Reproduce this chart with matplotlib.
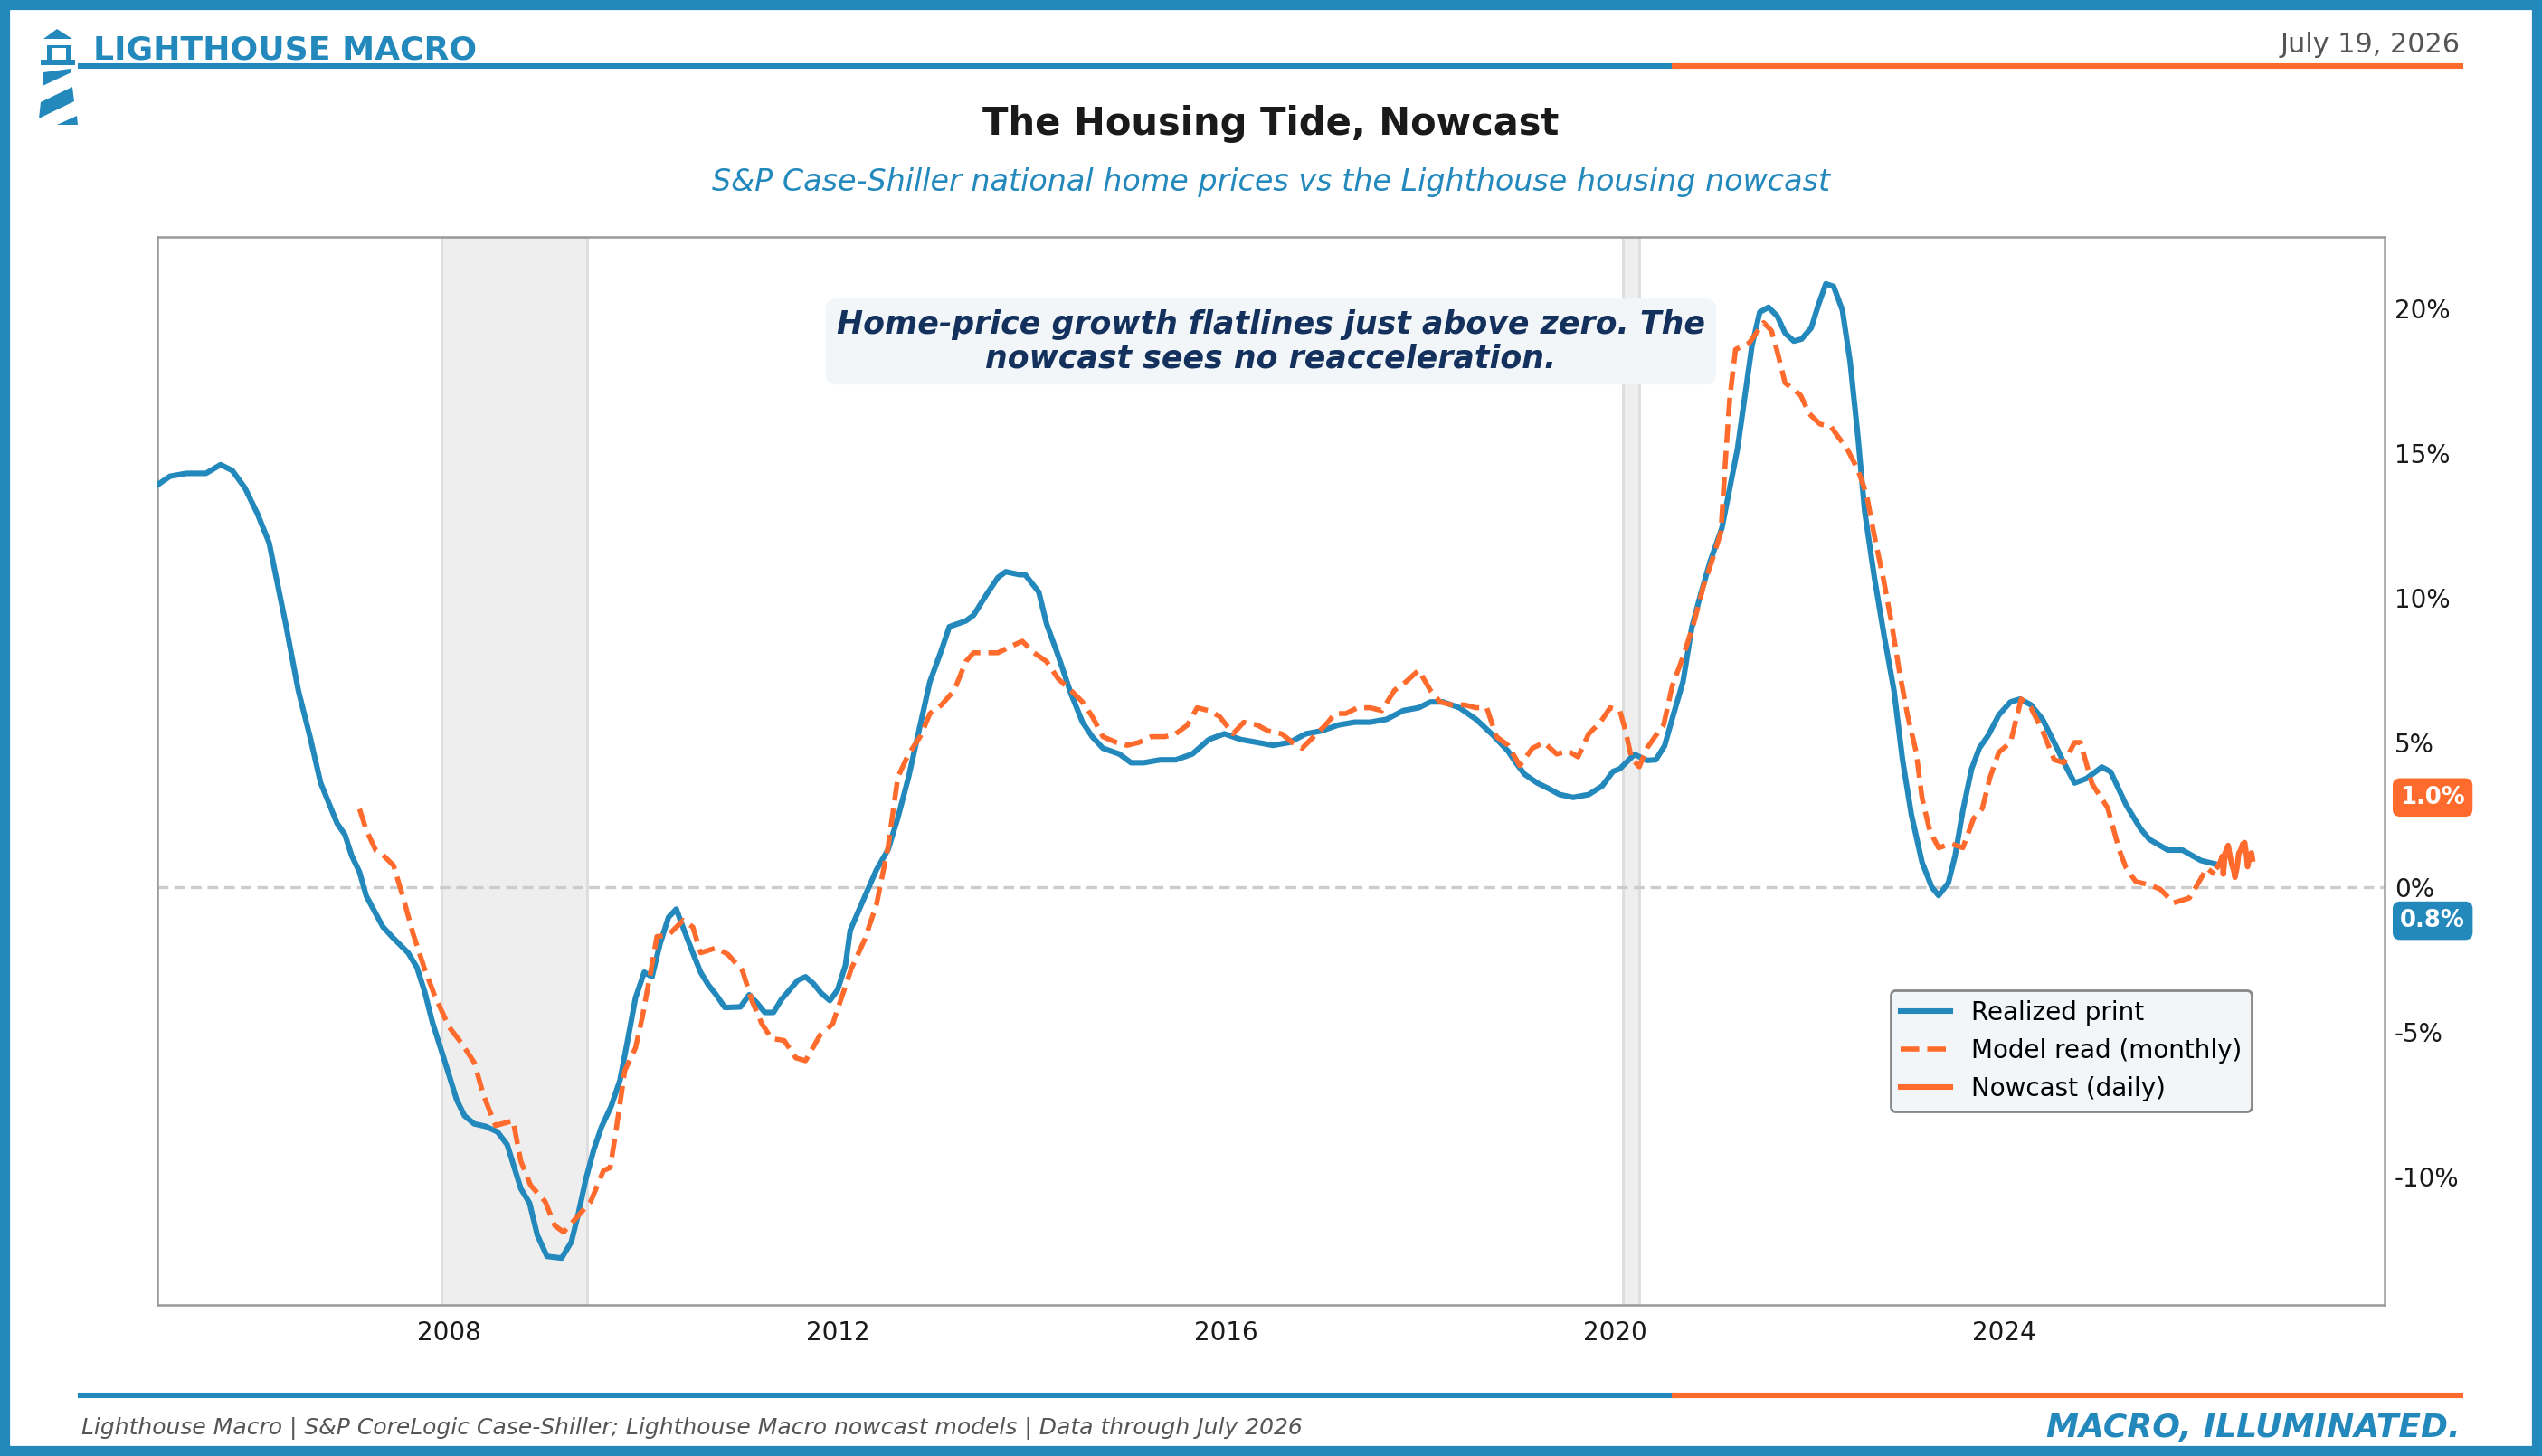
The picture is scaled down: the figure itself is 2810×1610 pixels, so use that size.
import matplotlib
matplotlib.use('Agg')
import matplotlib.pyplot as plt
from matplotlib.patches import Polygon, Rectangle
from matplotlib.lines import Line2D

# ==========================================
# Data (decimal years, YoY %)
# ==========================================
realized_years = [
    2005.0, 2005.13, 2005.3, 2005.5, 2005.65, 2005.77, 2005.9, 2006.03, 2006.15, 2006.32,
    2006.45, 2006.57, 2006.68, 2006.85, 2006.93, 2007.0, 2007.08, 2007.15, 2007.32, 2007.43,
    2007.58, 2007.67, 2007.75, 2007.83, 2007.93, 2008.08, 2008.16, 2008.26, 2008.38, 2008.5,
    2008.6, 2008.74, 2008.83, 2008.91, 2009.01, 2009.16, 2009.26, 2009.33, 2009.41, 2009.49,
    2009.57, 2009.67, 2009.76, 2009.84, 2009.92, 2010.01, 2010.09, 2010.17, 2010.26, 2010.34,
    2010.42, 2010.51, 2010.59, 2010.67, 2010.75, 2010.84, 2011.0, 2011.09, 2011.17, 2011.25,
    2011.34, 2011.42, 2011.59, 2011.67, 2011.75, 2011.83, 2011.92, 2012.0, 2012.08, 2012.13,
    2012.27, 2012.4, 2012.52, 2012.62, 2012.73, 2012.85, 2012.95, 2013.07, 2013.15, 2013.32,
    2013.4, 2013.53, 2013.65, 2013.73, 2013.87, 2013.93, 2014.07, 2014.15, 2014.27, 2014.4,
    2014.52, 2014.62, 2014.73, 2014.9, 2015.02, 2015.15, 2015.32, 2015.48, 2015.65, 2015.82,
    2015.98, 2016.15, 2016.32, 2016.48, 2016.65, 2016.82, 2016.98, 2017.15, 2017.32, 2017.48,
    2017.65, 2017.82, 2017.98, 2018.1, 2018.23, 2018.4, 2018.57, 2018.73, 2018.9, 2018.98,
    2019.07, 2019.2, 2019.32, 2019.43, 2019.57, 2019.73, 2019.87, 2019.98, 2020.05, 2020.2,
    2020.33, 2020.42, 2020.51, 2020.6, 2020.7, 2020.79, 2020.88, 2020.98, 2021.1, 2021.26,
    2021.41, 2021.49, 2021.58, 2021.67, 2021.75, 2021.84, 2021.92, 2022.02, 2022.09, 2022.17,
    2022.25, 2022.34, 2022.42, 2022.5, 2022.57, 2022.67, 2022.77, 2022.87, 2022.96, 2023.05,
    2023.16, 2023.26, 2023.33, 2023.43, 2023.5, 2023.58, 2023.67, 2023.75, 2023.84, 2023.95,
    2024.07, 2024.17, 2024.28, 2024.4, 2024.52, 2024.62, 2024.73, 2024.85, 2025.01, 2025.1,
    2025.26, 2025.41, 2025.5, 2025.69, 2025.84, 2026.03, 2026.2,
]
realized_vals = [
    13.9, 14.2, 14.3, 14.3, 14.6, 14.4, 13.8, 12.9, 11.9, 9.1,
    6.8, 5.2, 3.6, 2.2, 1.81, 1.08, 0.52, -0.31, -1.37, -1.77,
    -2.27, -2.77, -3.61, -4.67, -5.73, -7.35, -7.9, -8.18, -8.27, -8.46,
    -8.9, -10.42, -10.92, -12.03, -12.76, -12.82, -12.26, -11.31, -10.08, -9.08,
    -8.29, -7.57, -6.68, -5.28, -3.83, -2.94, -3.1, -1.99, -1.04, -0.76,
    -1.49, -2.27, -2.94, -3.38, -3.72, -4.16, -4.14, -3.72, -4.0, -4.33,
    -4.33, -3.89, -3.22, -3.1, -3.33, -3.66, -3.92, -3.55, -2.71, -1.49,
    -0.4, 0.6, 1.3, 2.4, 3.8, 5.6, 7.1, 8.2, 9.0, 9.2,
    9.4, 10.1, 10.7, 10.9, 10.8, 10.8, 10.2, 9.1, 8.0, 6.7,
    5.7, 5.2, 4.8, 4.6, 4.3, 4.3, 4.4, 4.4, 4.6, 5.1,
    5.3, 5.1, 5.0, 4.9, 5.0, 5.3, 5.4, 5.6, 5.7, 5.7,
    5.8, 6.1, 6.2, 6.4, 6.4, 6.2, 5.8, 5.3, 4.7, 4.3,
    3.9, 3.6, 3.4, 3.2, 3.1, 3.2, 3.5, 4.0, 4.09, 4.59,
    4.38, 4.4, 4.88, 5.95, 7.1, 8.97, 10.1, 11.26, 12.41, 15.14,
    18.72, 19.87, 20.04, 19.73, 19.15, 18.87, 18.94, 19.33, 20.09, 20.85,
    20.76, 19.94, 18.15, 15.57, 12.98, 10.69, 8.68, 6.82, 4.38, 2.51,
    0.86, 0.0, -0.29, 0.14, 1.08, 2.65, 4.09, 4.81, 5.24, 5.95,
    6.4, 6.5, 6.3, 5.8, 5.0, 4.3, 3.6, 3.75, 4.15, 3.99,
    2.84, 2.01, 1.65, 1.28, 1.28, 0.92, 0.78,
]

model_years = [
    2007.08, 2007.15, 2007.25, 2007.33, 2007.43, 2007.53, 2007.63, 2007.75, 2007.85, 2008.0,
    2008.13, 2008.26, 2008.36, 2008.48, 2008.66, 2008.74, 2008.84, 2008.99, 2009.09, 2009.18,
    2009.33, 2009.46, 2009.59, 2009.66, 2009.72, 2009.81, 2009.92, 2009.99, 2010.07, 2010.14,
    2010.26, 2010.41, 2010.51, 2010.59, 2010.75, 2010.87, 2011.02, 2011.12, 2011.22, 2011.32,
    2011.45, 2011.57, 2011.67, 2011.82, 2011.95, 2012.05, 2012.14, 2012.28, 2012.4, 2012.52,
    2012.62, 2012.73, 2012.85, 2012.95, 2013.07, 2013.2, 2013.32, 2013.4, 2013.53, 2013.65,
    2013.77, 2013.9, 2014.02, 2014.15, 2014.27, 2014.4, 2014.52, 2014.62, 2014.73, 2014.87,
    2014.98, 2015.1, 2015.23, 2015.37, 2015.48, 2015.6, 2015.7, 2015.82, 2015.93, 2016.07,
    2016.18, 2016.32, 2016.43, 2016.57, 2016.68, 2016.78, 2016.9, 2017.02, 2017.12, 2017.23,
    2017.35, 2017.48, 2017.6, 2017.73, 2017.85, 2017.98, 2018.1, 2018.2, 2018.32, 2018.45,
    2018.57, 2018.68, 2018.78, 2018.9, 2019.02, 2019.15, 2019.27, 2019.4, 2019.52, 2019.62,
    2019.73, 2019.85, 2019.95, 2020.05, 2020.11, 2020.17, 2020.25, 2020.33, 2020.42, 2020.5,
    2020.59, 2020.7, 2020.81, 2020.91, 2021.01, 2021.09, 2021.13, 2021.18, 2021.24, 2021.38,
    2021.53, 2021.61, 2021.67, 2021.75, 2021.91, 2022.0, 2022.11, 2022.22, 2022.28, 2022.39,
    2022.5, 2022.59, 2022.67, 2022.76, 2022.84, 2022.93, 2023.01, 2023.1, 2023.16, 2023.24,
    2023.33, 2023.46, 2023.58, 2023.69, 2023.78, 2023.86, 2023.95, 2024.07, 2024.18, 2024.28,
    2024.4, 2024.52, 2024.62, 2024.73, 2024.79, 2024.91, 2025.07, 2025.13, 2025.19, 2025.26,
    2025.36, 2025.5, 2025.61, 2025.75, 2025.91, 2026.02, 2026.09, 2026.17,
]
model_vals = [
    2.7, 1.97, 1.25, 1.08, 0.75, -0.37, -1.6, -2.83, -3.72, -4.83,
    -5.39, -6.06, -7.23, -8.24, -8.07, -9.47, -10.3, -10.86, -11.7, -11.92,
    -11.36, -10.86, -9.8, -9.69, -8.41, -6.34, -5.56, -4.5, -3.05, -1.71,
    -1.65, -1.15, -1.38, -2.27, -2.1, -2.32, -2.88, -3.94, -4.72, -5.23,
    -5.3, -5.9, -6.0, -5.11, -4.72, -3.72, -2.83, -1.8, -0.6, 1.4,
    3.8, 4.6, 5.2, 6.0, 6.3, 6.8, 7.8, 8.1, 8.1, 8.1,
    8.3, 8.5, 8.1, 7.8, 7.2, 6.8, 6.4, 5.9, 5.2, 5.0,
    4.9, 5.0, 5.2, 5.2, 5.3, 5.6, 6.2, 6.1, 5.9, 5.3,
    5.7, 5.6, 5.4, 5.3, 5.0, 4.8, 5.2, 5.6, 6.0, 6.0,
    6.2, 6.2, 6.1, 6.8, 7.1, 7.5, 6.8, 6.4, 6.3, 6.3,
    6.2, 6.2, 5.2, 4.9, 4.2, 4.8, 5.0, 4.6, 4.7, 4.5,
    5.3, 5.7, 6.2, 6.1, 5.38, 4.45, 4.16, 4.81, 5.24, 5.6,
    6.96, 7.96, 9.11, 10.4, 11.41, 12.27, 14.42, 16.86, 18.58, 18.8,
    19.51, 19.23, 18.51, 17.43, 17.0, 16.36, 16.0, 15.93, 15.64, 15.14,
    14.42, 13.56, 12.13, 10.69, 9.25, 7.39, 5.95, 4.66, 3.08, 1.94,
    1.36, 1.5, 1.36, 2.37, 2.72, 3.8, 4.66, 5.0, 6.5, 6.2,
    5.4, 4.4, 4.3, 5.0, 5.0, 3.57, 2.74, 2.01, 1.28, 0.66,
    0.19, 0.08, -0.07, -0.54, -0.38, 0.24, 0.66, 0.45,
]

nowcast_years = [
    2026.2, 2026.23, 2026.25, 2026.26, 2026.28, 2026.31, 2026.33, 2026.35, 2026.37, 2026.38,
    2026.4, 2026.42, 2026.44, 2026.46, 2026.48, 2026.5, 2026.51, 2026.53, 2026.55, 2026.56,
]
nowcast_vals = [
    0.71, 0.86, 1.07, 0.45, 1.18, 1.44, 1.07, 0.76, 0.55, 0.34,
    0.66, 1.18, 1.28, 1.49, 1.54, 1.07, 0.71, 1.07, 1.18, 0.97,
]

recessions = [(2007.92, 2009.42), (2020.08, 2020.25)]
year_ticks = [2008, 2012, 2016, 2020, 2024]
pct_ticks = [-10, -5, 0, 5, 10, 15, 20]

# ==========================================
# Style
# ==========================================
BLUE = '#2389BC'
ORANGE = '#FF6B2C'
NAVY = '#13315C'
PANEL = '#F2F6F9'
W, H = 2810, 1610


def fx(px):
    return px / W


def fy(py):
    return 1 - py / H


fig = plt.figure(figsize=(W / 200, H / 200), dpi=200)
fig.patch.set_facecolor('white')

# outer frame
fig.patches.append(Rectangle((0, 0), 1, 1, transform=fig.transFigure, fill=False,
                             edgecolor=BLUE, linewidth=8, zorder=10))

# lighthouse logo (pixel coords of the canvas)
logo_shapes = [
    [(48, 43), (63, 32), (80, 43)],
    [(52, 50), (78, 50), (78, 53), (52, 53)],
    [(52, 50), (57, 50), (57, 67), (52, 67)],
    [(73, 50), (78, 50), (78, 67), (73, 67)],
    [(45, 66), (83, 66), (83, 72), (45, 72)],
    [(48, 80), (78, 76), (79, 80), (47, 95)],
    [(45, 113), (80, 96), (82, 112), (43, 131)],
    [(63, 138), (85, 128), (86, 138)],
]
for shp in logo_shapes:
    fig.patches.append(Polygon([(fx(a), fy(b)) for a, b in shp], closed=True,
                               transform=fig.transFigure, facecolor=BLUE, edgecolor='none'))

# header
fig.text(fx(103), fy(65), 'LIGHTHOUSE MACRO', fontsize=13.0, fontweight='bold',
         color=BLUE, ha='left', va='baseline')
fig.text(fx(2720), fy(50), 'July 19, 2026', fontsize=10.9, color='#555555',
         ha='right', va='center')
fig.add_artist(Line2D([fx(89), fx(1851)], [fy(73), fy(73)], color=BLUE, lw=2.2,
                      transform=fig.transFigure))
fig.add_artist(Line2D([fx(1851), fx(2720)], [fy(73), fy(73)], color=ORANGE, lw=2.2,
                      transform=fig.transFigure))

fig.text(0.5, fy(137), 'The Housing Tide, Nowcast', fontsize=15, fontweight='bold',
         color='#1a1a1a', ha='center', va='center')
fig.text(0.5, fy(202), 'S&P Case-Shiller national home prices vs the Lighthouse housing nowcast',
         fontsize=12, style='italic', color=BLUE, ha='center', va='center')

# footer
fig.add_artist(Line2D([fx(89), fx(1851)], [fy(1543), fy(1543)], color=BLUE, lw=2.2,
                      transform=fig.transFigure))
fig.add_artist(Line2D([fx(1851), fx(2720)], [fy(1543), fy(1543)], color=ORANGE, lw=2.2,
                      transform=fig.transFigure))
fig.text(fx(90), fy(1579),
         'Lighthouse Macro | S&P CoreLogic Case-Shiller; Lighthouse Macro nowcast models | Data through July 2026',
         fontsize=9.0, style='italic', color='#555555', ha='left', va='center')
fig.text(fx(2720), fy(1579), 'MACRO, ILLUMINATED.', fontsize=13.0, fontweight='bold',
         style='italic', color=BLUE, ha='right', va='center')

# ==========================================
# Main axes
# ==========================================
ax = fig.add_axes([fx(174), fy(1443), (2636 - 174) / W, (1443 - 262) / H])

for start, end in recessions:
    ax.axvspan(start, end, facecolor='#EEEEEE', edgecolor='#DDDDDD', lw=1, zorder=0)

ax.axhline(0, color='#CCCCCC', lw=1.2, linestyle=(0, (3.5, 2)), zorder=1)

ax.plot(realized_years, realized_vals, color=BLUE, lw=2.2, label='Realized print', zorder=3)
ax.plot(model_years, model_vals, color=ORANGE, lw=2.0, linestyle='--',
        label='Model read (monthly)', zorder=4)
ax.plot(nowcast_years, nowcast_vals, color=ORANGE, lw=2.2, label='Nowcast (daily)', zorder=5)

ax.set_xlim(2005.0, 2027.92)
ax.set_ylim(-14.44, 22.47)

ax.set_xticks(year_ticks)
ax.set_xticklabels([str(y) for y in year_ticks])
ax.yaxis.tick_right()
ax.set_yticks(pct_ticks)
ax.set_yticklabels([f'{v}%' for v in pct_ticks])
ax.tick_params(axis='both', length=0, labelsize=10, labelcolor='#1a1a1a')
ax.tick_params(axis='x', pad=6)
ax.tick_params(axis='y', pad=4)

for sp in ax.spines.values():
    sp.set_color('#999999')
    sp.set_linewidth(0.9)

# latest value tags on the right edge
ax.text(1.007, 3.1, f'{nowcast_vals[-1]:.1f}%', transform=ax.get_yaxis_transform(),
        fontsize=9.3, fontweight='bold', color='white', ha='left', va='center',
        bbox=dict(boxstyle='round,pad=0.32', facecolor=ORANGE, edgecolor='none'))
ax.text(1.007, -1.16, f'{realized_vals[-1]:.1f}%', transform=ax.get_yaxis_transform(),
        fontsize=9.3, fontweight='bold', color='white', ha='left', va='center',
        bbox=dict(boxstyle='round,pad=0.32', facecolor=BLUE, edgecolor='none'))

# call-out
ax.text(0.5, 0.902, 'Home-price growth flatlines just above zero. The\nnowcast sees no reacceleration.',
        transform=ax.transAxes, fontsize=12.5, fontweight='bold', style='italic', color=NAVY,
        ha='center', va='center', linespacing=1.1,
        bbox=dict(boxstyle='round,pad=0.35', facecolor=PANEL, edgecolor='none'))

leg = ax.legend(loc='lower right', bbox_to_anchor=(0.9403, 0.1812), borderaxespad=0,
                fontsize=10, frameon=True, facecolor=PANEL, edgecolor='#888888',
                framealpha=1, handlelength=2.0)
leg.get_frame().set_linewidth(1.0)

fig.savefig('out.png', dpi=200)
